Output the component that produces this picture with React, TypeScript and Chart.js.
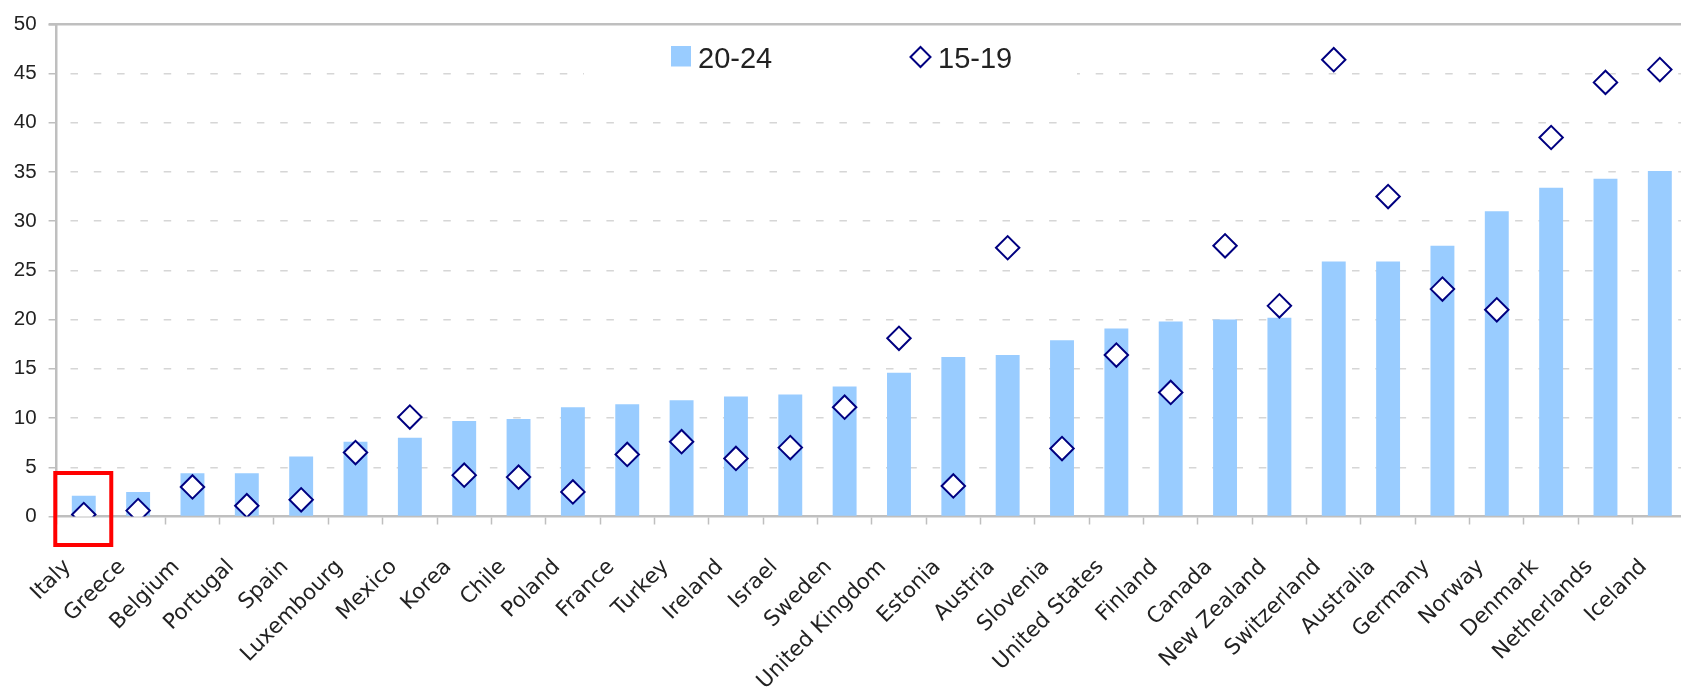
import React, { useEffect, useRef } from 'react';
import { Chart, registerables } from 'chart.js';

Chart.register(...registerables);

const categories = [
  'Italy', 'Greece', 'Belgium', 'Portugal', 'Spain', 'Luxembourg', 'Mexico', 'Korea', 'Chile', 'Poland',
  'France', 'Turkey', 'Ireland', 'Israel', 'Sweden', 'United Kingdom', 'Estonia', 'Austria', 'Slovenia',
  'United States', 'Finland', 'Canada', 'New Zealand', 'Switzerland', 'Australia', 'Germany', 'Norway',
  'Denmark', 'Netherlands', 'Iceland',
];

const seriesLabels = ['20-24', '15-19'];

const values2024 = [
  2.1, 2.5, 4.4, 4.4, 6.1, 7.6, 8.0, 9.7, 9.9, 11.1,
  11.4, 11.8, 12.2, 12.4, 13.2, 14.6, 16.2, 16.4, 17.9,
  19.1, 19.8, 20.0, 20.2, 25.9, 25.9, 27.5, 31.0,
  33.4, 34.3, 35.1,
];

const values1519 = [
  0.2, 0.6, 3.0, 1.1, 1.7, 6.5, 10.1, 4.2, 4.0, 2.5,
  6.3, 7.6, 5.9, 7.0, 11.1, 18.1, 3.1, 27.3, 6.9,
  16.4, 12.6, 27.5, 21.4, 46.4, 32.5, 23.1, 21.0,
  38.5, 44.1, 45.4,
];

const yMin = 0;
const yMax = 50;
const yStep = 5;

const BAR_COLOR = '#99CCFF';
const MARKER_COLOR = '#000080';
const AXIS_COLOR = '#BFBFBF';
const GRID_COLOR = '#D6D6D6';
const TEXT_COLOR = '#222222';

export default function App() {
  const canvasRef = useRef<HTMLCanvasElement>(null);

  useEffect(() => {
    const canvas = canvasRef.current;
    if (!canvas) return;

    const decor = {
      id: 'decor',
      beforeDatasetsDraw(chart: any) {
        const { ctx, chartArea } = chart;
        ctx.save();
        // white box behind legend
        ctx.fillStyle = '#ffffff';
        ctx.fillRect(584, chartArea.top + 4, 1077 - 584, 58);
        // solid top border at 50
        ctx.strokeStyle = AXIS_COLOR;
        ctx.lineWidth = 2.5;
        ctx.beginPath();
        ctx.moveTo(chartArea.left - 8, chartArea.top);
        ctx.lineTo(chartArea.right + 5, chartArea.top);
        ctx.stroke();
        ctx.restore();
      },
      afterDatasetsDraw(chart: any) {
        const { ctx } = chart;
        ctx.save();
        // legend
        ctx.font = '29px "Liberation Sans", Arial, sans-serif';
        ctx.textBaseline = 'alphabetic';
        ctx.textAlign = 'left';
        ctx.fillStyle = BAR_COLOR;
        ctx.fillRect(671, 46, 20, 20.5);
        ctx.fillStyle = TEXT_COLOR;
        ctx.fillText(seriesLabels[0], 698, 67.5);
        // diamond
        const cx = 920.5, cy = 57, r = 10;
        ctx.beginPath();
        ctx.moveTo(cx - r, cy);
        ctx.lineTo(cx, cy - r);
        ctx.lineTo(cx + r, cy);
        ctx.lineTo(cx, cy + r);
        ctx.closePath();
        ctx.fillStyle = '#ffffff';
        ctx.fill();
        ctx.strokeStyle = MARKER_COLOR;
        ctx.lineWidth = 2;
        ctx.stroke();
        ctx.fillStyle = TEXT_COLOR;
        ctx.fillText(seriesLabels[1], 938, 67.5);

        // red highlight box around first category
        const xs = chart.scales.x;
        const ys = chart.scales.y;
        const c0 = xs.getPixelForValue(0);
        const y0 = ys.getPixelForValue(0);
        ctx.strokeStyle = '#FF0000';
        ctx.lineWidth = 4;
        ctx.strokeRect(c0 - 28.5, y0 - 43.5, 56, 72);
        ctx.restore();
      },
    };

    const chart = new Chart(canvas, {
      type: 'bar',
      data: {
        labels: categories,
        datasets: [
          {
            type: 'line',
            label: seriesLabels[1],
            data: values1519,
            showLine: false,
            pointStyle: 'rectRot',
            pointRadius: 11.7,
            pointHoverRadius: 11.7,
            pointBorderWidth: 2,
            pointBorderColor: MARKER_COLOR,
            pointBackgroundColor: '#ffffff',
            borderColor: MARKER_COLOR,
            backgroundColor: '#ffffff',
            order: 0,
          } as any,
          {
            type: 'bar',
            label: seriesLabels[0],
            data: values2024,
            backgroundColor: BAR_COLOR,
            borderWidth: 0,
            categoryPercentage: 1,
            barPercentage: 0.44,
            order: 1,
          },
        ],
      },
      options: {
        responsive: false,
        animation: false,
        devicePixelRatio: 1,
        layout: { autoPadding: false, padding: { top: 23.3, left: 0, right: 0, bottom: 0 } },
        plugins: {
          legend: { display: false },
          tooltip: { enabled: false },
        },
        scales: {
          x: {
            offset: true,
            grid: {
              display: true,
              drawOnChartArea: false,
              drawTicks: true,
              offset: true,
              tickLength: 8,
              tickColor: AXIS_COLOR,
              tickWidth: 1.5,
            },
            border: { display: true, color: AXIS_COLOR, width: 2.5 },
            ticks: {
              autoSkip: false,
              maxRotation: 45,
              minRotation: 45,
              padding: 30,
              labelOffset: -16,
              color: TEXT_COLOR,
              font: { family: '"DejaVu Sans", sans-serif', size: 21.5 },
            },
            afterFit(scale: any) {
              scale.height = 173.5;
              scale.paddingLeft = 0;
              scale.paddingRight = 0;
            },
          },
          y: {
            min: yMin,
            max: yMax,
            ticks: {
              stepSize: yStep,
              padding: 12,
              color: TEXT_COLOR,
              font: { family: '"Liberation Sans", Arial, sans-serif', size: 20.5 },
            },
            grid: {
              color: (ctx: any) =>
                ctx.tick && (ctx.tick.value === yMin || ctx.tick.value === yMax) ? 'rgba(0,0,0,0)' : GRID_COLOR,
              lineWidth: 1.5,
              drawTicks: true,
              tickLength: 8,
              tickColor: AXIS_COLOR,
              tickWidth: 1.5,
              tickBorderDash: [],
            },
            border: { display: true, color: AXIS_COLOR, width: 2.5, dash: [7.5, 15.8], dashOffset: 10.3 },
            afterFit(scale: any) {
              scale.width = 56.6;
            },
          },
        },
      },
      plugins: [decor],
    });

    return () => chart.destroy();
  }, []);

  return (
    <div
      style={{
        position: 'fixed',
        left: 0,
        top: 0,
        width: 1681,
        height: 690,
        overflow: 'hidden',
        background: '#ffffff',
      }}
    >
      <canvas ref={canvasRef} width={1687} height={690} style={{ display: 'block', width: 1687, height: 690 }} />
    </div>
  );
}
